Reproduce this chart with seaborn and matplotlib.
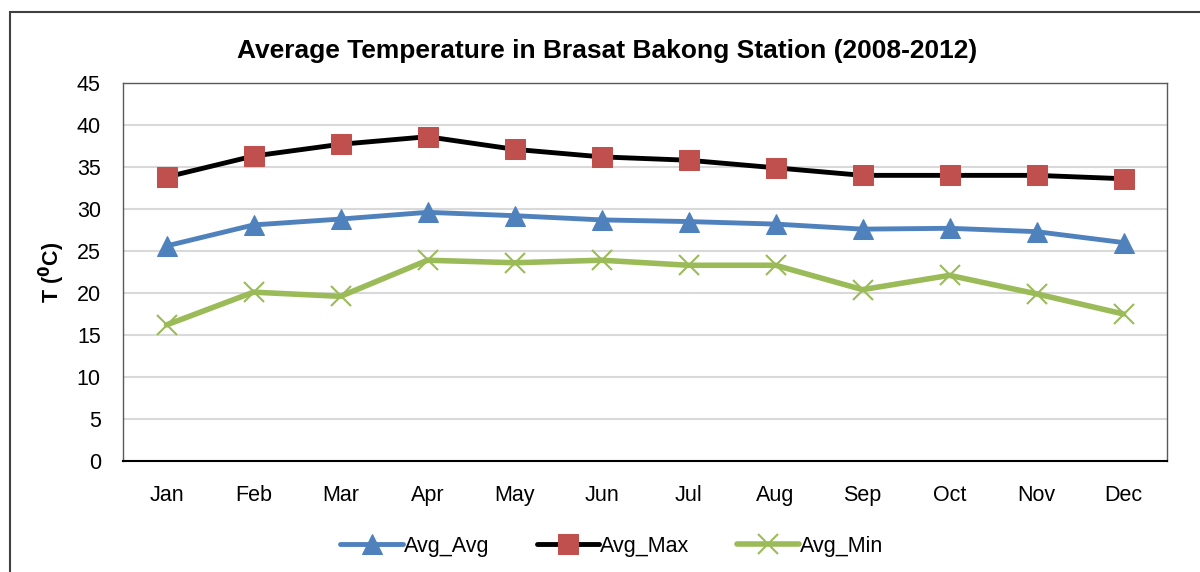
import pandas as pd
import matplotlib
matplotlib.use('Agg')
import matplotlib.pyplot as plt
import seaborn as sns
from matplotlib.patches import Rectangle

months = ['Jan', 'Feb', 'Mar', 'Apr', 'May', 'Jun',
          'Jul', 'Aug', 'Sep', 'Oct', 'Nov', 'Dec']
avg_avg = [25.6, 28.1, 28.8, 29.6, 29.2, 28.7, 28.5, 28.2, 27.6, 27.7, 27.3, 26.0]
avg_max = [33.8, 36.3, 37.7, 38.6, 37.1, 36.2, 35.8, 34.9, 34.0, 34.0, 34.0, 33.6]
avg_min = [16.2, 20.1, 19.6, 23.9, 23.6, 23.9, 23.3, 23.3, 20.4, 22.1, 19.9, 17.5]
y_ticks = [0, 5, 10, 15, 20, 25, 30, 35, 40, 45]

sns.set_style('white')
plt.rcParams['font.family'] = ['Liberation Sans', 'DejaVu Sans']
plt.rcParams['text.color'] = 'black'
plt.rcParams['axes.labelcolor'] = 'black'
plt.rcParams['xtick.color'] = 'black'
plt.rcParams['ytick.color'] = 'black'

fig = plt.figure(figsize=(12, 5.72), dpi=100)
ax = fig.add_axes([0.1025, 0.194, 0.87, 0.661])

df = pd.DataFrame({'month': months, 'Avg_Avg': avg_avg,
                   'Avg_Max': avg_max, 'Avg_Min': avg_min})

# --- series ---
sns.lineplot(data=df, x='month', y='Avg_Avg', ax=ax, color='#4f81bd', lw=3.5,
             marker='^', markersize=14, markeredgecolor='#4f81bd', label='Avg_Avg')
sns.lineplot(data=df, x='month', y='Avg_Max', ax=ax, color='black', lw=3.5,
             marker='s', markersize=14, markerfacecolor='#c0504d',
             markeredgecolor='#c0504d', label='Avg_Max')
sns.lineplot(data=df, x='month', y='Avg_Min', ax=ax, color='#9bbb59', lw=4,
             marker='x', markersize=14, markeredgewidth=1.5,
             markeredgecolor='#9bbb59', label='Avg_Min')

ax.set_xlim(-0.5, 11.5)
ax.set_ylim(0, 45)
ax.set_yticks(y_ticks)
ax.yaxis.grid(True, color='#d9d9d9', lw=1.5)
ax.set_axisbelow(True)
for s in ax.spines.values():
    s.set_color('#595959')
    s.set_linewidth(1)
ax.spines['bottom'].set_color('black')
ax.spines['bottom'].set_linewidth(1.5)
ax.tick_params(axis='both', labelsize=15.5, length=0)
ax.tick_params(axis='x', pad=17)
ax.tick_params(axis='y', pad=16)
ax.set_xlabel('')
ax.set_ylabel('T ($\\mathbf{^0}$C)', fontsize=15.5, fontweight='bold', labelpad=7)

fig.text(0.506, 0.91, 'Average Temperature in Brasat Bakong Station (2008-2012)',
         ha='center', va='center', fontsize=19, fontweight='bold')

leg = ax.legend(loc='center', bbox_to_anchor=(0.51, 0.045), bbox_transform=fig.transFigure,
                ncol=3, frameon=False, fontsize=15.5, handlelength=2.9,
                handletextpad=0.05, columnspacing=2.2)

# outer chart border
fig.patches.append(Rectangle((10 / 1200, -0.05), 1.1, 0.05 + 1 - 12 / 572,
                             transform=fig.transFigure, fill=False,
                             edgecolor='#404040', lw=1.5))

fig.savefig('out.png', dpi=100)
